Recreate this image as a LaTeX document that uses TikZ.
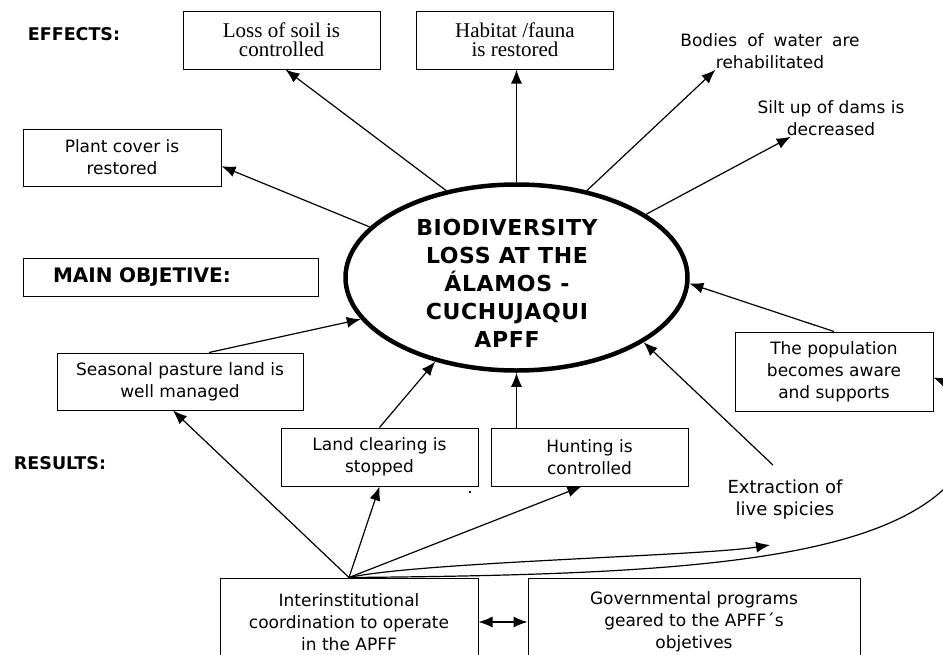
\documentclass[tikz,border=0pt]{standalone}
\usepackage{fontspec}
\setmainfont{Liberation Serif}
\setsansfont{DejaVu Sans}
\usetikzlibrary{arrows.meta, positioning, shapes.geometric}
\newcommand\widewords{\spaceskip 10pt plus 1pt\relax}

\tikzset{
  resultbox/.style={draw, line width=1pt, align=center, inner sep=2pt,
    minimum width=198pt, minimum height=57pt,
    font=\sffamily\fontsize{17}{22}\selectfont},
  effectbox/.style={resultbox, minimum width=197pt, minimum height=58pt,
    font=\rmfamily\fontsize{21}{19}\selectfont},
  freetext/.style={align=center, inner sep=1pt,
    font=\sffamily\fontsize{17}{22}\selectfont},
  heading/.style={inner sep=1pt, font=\sffamily\bfseries\fontsize{17.5}{22}\selectfont},
  bigell/.style={draw, ellipse, line width=4.5pt, inner sep=0pt,
    minimum width=342pt, minimum height=186pt},
  link/.style={->, line width=1.2pt},
}

\begin{document}
\begin{tikzpicture}[x=1pt,y=-1pt,>={Latex[length=14pt,width=11pt]}]
\useasboundingbox (0,0) rectangle (943,654);
\clip (0,0) rectangle (943,654);

% problem in the middle
\node [bigell] (loss) at (516.5,277.5) {};
\node [align=center, inner sep=0pt,
  font=\sffamily\bfseries\fontsize{22}{28}\selectfont\addfontfeatures{LetterSpace=3}]
  (losstxt) at (507,283) {BIODIVERSITY\\LOSS AT THE\\ÁLAMOS -\\CUCHUJAQUI\\APFF};

% effects
\node [heading] (effects) at (74,34) {EFFECTS:};
\node [effectbox] (soil) at (281.5,40) {Loss of soil is\\controlled};
\node [effectbox] (habitat) at (515,40) {Habitat /fauna\\is restored};
\node [resultbox] (plant) at (122,157.5) {Plant cover is\\restored};
\node [freetext] (bodies) at (770,51) {\widewords Bodies of water are\\rehabilitated};
\node [freetext] (silt) at (831,118) {Silt up of dams is\\decreased};

% objective
\node [draw, line width=1pt, minimum height=38pt, text width=235pt, inner xsep=30pt,
  align=left, font=\sffamily\bfseries\fontsize{20}{24}\selectfont]
  (mainobj) at (170.5,277) {MAIN OBJETIVE:};

% results
\node [heading] (results) at (60,463) {RESULTS:};
\node [resultbox, minimum width=246pt] (season) at (180,381.5) {Seasonal pasture land is\\well managed};
\node [resultbox, minimum width=197pt, minimum height=58pt] (clear) at (379.5,457) {Land clearing is\\stopped};
\node [resultbox, minimum width=197pt, minimum height=58pt, right=12pt of clear] (hunt) {Hunting is\\controlled};
\node [freetext] (dot) at (470,492) {.};
\node [resultbox, minimum height=79pt] (pop) at (834,371.5) {The population\\becomes aware\\and supports};
\node [freetext, font=\sffamily\fontsize{18}{22}\selectfont] (extr) at (785,500) {Extraction of\\live spicies};
\coordinate (extrtip) at (770,545);

% activities
\node [resultbox, minimum width=258pt, minimum height=88pt] (inter) at (349,622)
  {Interinstitutional\\coordination to operate\\in the APFF};
\node [resultbox, minimum width=332pt, minimum height=88pt, right=49pt of inter] (gov)
  {Governmental programs\\geared to the APFF´s\\objetives};

% arrows
\draw [link] (loss.129) -- ([xshift=4pt]soil.south);
\draw [link] (loss.north) -- (loss.north |- habitat.south);
\draw [link] (loss.51) -- (bodies.199);
\draw [link] (loss.26) -- (silt.205);
\draw [link] (loss.161) -- (plant.-5);
\draw [link] ([xshift=29pt]season.north) -- (loss.195);
\draw [link] (clear.north) -- (loss.226);
\draw [link] (hunt.north -| loss.south) -- (loss.south);
\draw [link] ([xshift=-12pt,yshift=14pt]extr.north) -- (loss.-27);
\draw [link] (pop.north) -- (loss.-2);
\draw [link] (inter.north) -- ([xshift=-7pt]season.south);
\draw [link] (inter.north) -- (clear.south);
\draw [link] (inter.north) -- ([xshift=-8pt]hunt.south);
\draw [link] (inter.north) .. controls (420,562) and (700,556) .. (extrtip);
\draw [link] (inter.north) .. controls (650,575) and (860,565) .. (943,490)
  .. controls (978,458) and (968,392) .. ([yshift=-6pt]pop.east);
\draw [<->, line width=1.2pt] (inter.east) -- (gov.west);
\end{tikzpicture}
\end{document}
